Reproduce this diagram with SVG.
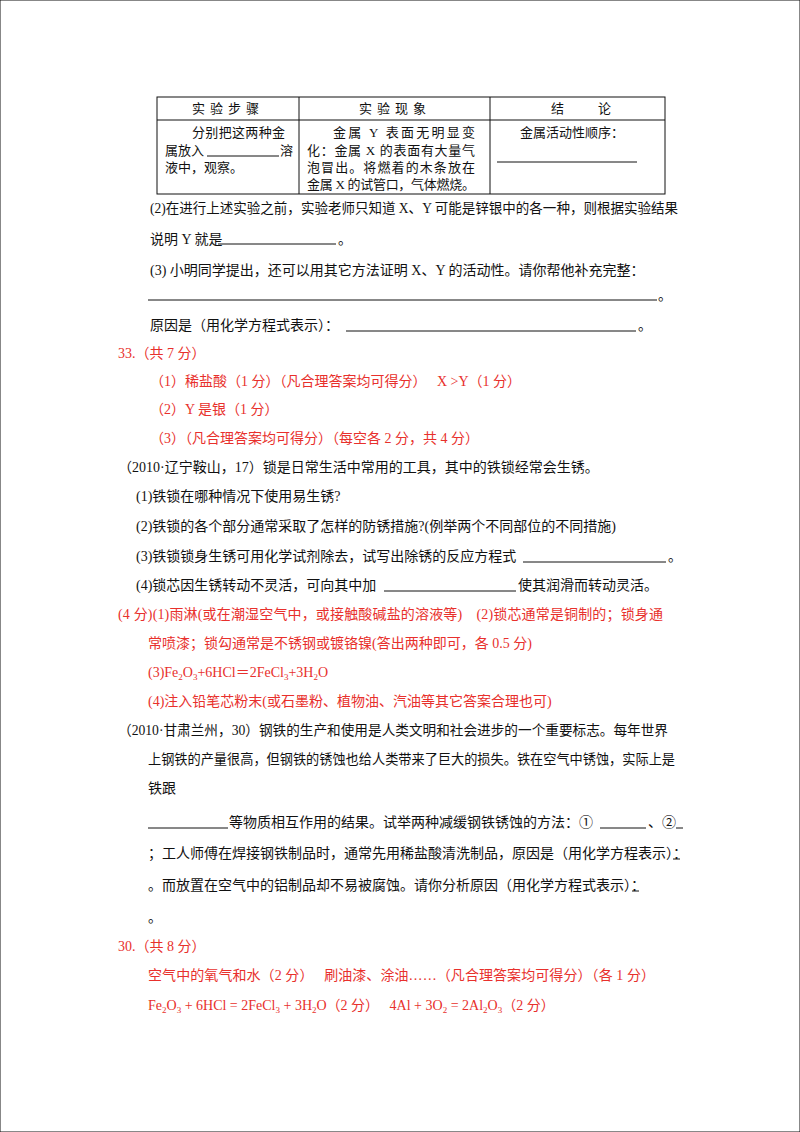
<svg xmlns="http://www.w3.org/2000/svg" width="800" height="1132" viewBox="0 0 800 1132">
<style>
text{font-family:"Liberation Serif","Noto Sans CJK SC",serif;font-size:14px;fill:#111}
.r{fill:#e8302c}
.s{font-size:13px}
line,rect{stroke:#111;stroke-width:1;fill:none}
</style>
<rect x="0" y="0" width="800" height="1132" fill="#fff" stroke="none"/>
<g id="table">
<rect x="157" y="97" width="508" height="97" stroke-width="1.3"/>
<line x1="157" y1="120" x2="665" y2="120"/>
<line x1="299" y1="97" x2="299" y2="194"/>
<line x1="490" y1="97" x2="490" y2="194"/>
<text x="228" y="113" text-anchor="middle" class="s" letter-spacing="5">实验步骤</text>
<text x="395" y="113" text-anchor="middle" class="s" letter-spacing="5">实验现象</text>
<text x="551" y="113" class="s">结</text><text x="598" y="113" class="s">论</text>
<text x="192" y="137" class="s" textLength="93" lengthAdjust="spacing">分别把这两种金</text>
<text x="165" y="155" class="s">属放入</text><line x1="207" y1="156" x2="279" y2="156"/><text x="280" y="155" class="s">溶</text>
<text x="165" y="172" class="s">液中，观察。</text>
<text x="333" y="137" class="s" textLength="142" lengthAdjust="spacing">金属 Y 表面无明显变</text>
<text x="307" y="155" class="s" textLength="168" lengthAdjust="spacing">化：金属 X 的表面有大量气</text>
<text x="307" y="172" class="s" textLength="168" lengthAdjust="spacing">泡冒出。将燃着的木条放在</text>
<text x="307" y="189" class="s" textLength="168" lengthAdjust="spacing">金属 X 的试管口，气体燃烧。</text>
<text x="520" y="137" class="s">金属活动性顺序：</text>
<line x1="497" y1="162" x2="637" y2="162"/>
</g>
<g id="text">
<text x="150" y="213" textLength="528" lengthAdjust="spacingAndGlyphs">(2)在进行上述实验之前，实验老师只知道 X、Y 可能是锌银中的各一种，则根据实验结果</text>
<text x="150" y="244">说明 Y 就是</text><line x1="218" y1="244" x2="336" y2="244"/><text x="338" y="244">。</text>
<text x="150" y="275">(3) 小明同学提出，还可以用其它方法证明 X、Y 的活动性。请你帮他补充完整：</text>
<line x1="148" y1="300" x2="657" y2="300"/><text x="658" y="300">。</text>
<text x="150" y="330">原因是（用化学方程式表示）：</text><line x1="346" y1="331" x2="636" y2="331"/><text x="638" y="330">。</text>
<text x="118" y="358" class="r">33.（共 7 分）</text>
<text x="150" y="386" class="r">（1）稀盐酸（1 分）（凡合理答案均可得分）　 X &gt;Y（1 分）</text>
<text x="150" y="414" class="r">（2）Y 是银（1 分）</text>
<text x="150" y="443" class="r">（3）（凡合理答案均可得分）（每空各 2 分，共 4 分）</text>
<text x="118" y="472">（2010·辽宁鞍山，17）锁是日常生活中常用的工具，其中的铁锁经常会生锈。</text>
<text x="136" y="501">(1)铁锁在哪种情况下使用易生锈?</text>
<text x="136" y="531">(2)铁锁的各个部分通常采取了怎样的防锈措施?(例举两个不同部位的不同措施)</text>
<text x="136" y="561">(3)铁锁锁身生锈可用化学试剂除去，试写出除锈的反应方程式</text><line x1="523" y1="562" x2="666" y2="562"/><text x="668" y="561">。</text>
<text x="136" y="590">(4)锁芯因生锈转动不灵活，可向其中加</text><line x1="384" y1="591" x2="516" y2="591"/><text x="518" y="590">使其润滑而转动灵活。</text>
<text x="118" y="619" class="r" textLength="545" lengthAdjust="spacing">(4 分)(1)雨淋(或在潮湿空气中，或接触酸碱盐的溶液等)　(2)锁芯通常是铜制的；锁身通</text>
<text x="148" y="648" class="r">常喷漆；锁勾通常是不锈钢或镀铬镍(答出两种即可，各 0.5 分)</text>
<text x="148" y="677" class="r">(3)Fe<tspan font-size="9" dy="3">2</tspan><tspan dy="-3">O</tspan><tspan font-size="9" dy="3">3</tspan><tspan dy="-3">+6HCl＝2FeCl</tspan><tspan font-size="9" dy="3">3</tspan><tspan dy="-3">+3H</tspan><tspan font-size="9" dy="3">2</tspan><tspan dy="-3">O</tspan></text>
<text x="148" y="706" class="r">(4)注入铅笔芯粉末(或石墨粉、植物油、汽油等其它答案合理也可)</text>
<text x="118" y="735" textLength="550" lengthAdjust="spacingAndGlyphs">（2010·甘肃兰州，30）钢铁的生产和使用是人类文明和社会进步的一个重要标志。每年世界</text>
<text x="148" y="764" textLength="527" lengthAdjust="spacingAndGlyphs">上钢铁的产量很高，但钢铁的锈蚀也给人类带来了巨大的损失。铁在空气中锈蚀，实际上是</text>
<text x="148" y="793">铁跟</text>
<line x1="148" y1="828" x2="228" y2="828"/><text x="229" y="827">等物质相互作用的结果。试举两种减缓钢铁锈蚀的方法：①</text><line x1="600" y1="828" x2="646" y2="828"/><text x="648" y="827">、②</text><line x1="676" y1="828" x2="683" y2="828"/>
<text x="148" y="858">；工人师傅在焊接钢铁制品时，通常先用稀盐酸清洗制品，原因是（用化学方程表示）：</text><line x1="673" y1="859" x2="680" y2="859"/>
<text x="148" y="890">。而放置在空气中的铝制品却不易被腐蚀。请你分析原因（用化学方程式表示）：</text><line x1="632" y1="891" x2="639" y2="891"/>
<text x="148" y="922">。</text>
<text x="118" y="951" class="r">30.（共 8 分）</text>
<text x="148" y="980" class="r" textLength="507" lengthAdjust="spacing">空气中的氧气和水（2 分）　 刷油漆、涂油……（凡合理答案均可得分）（各 1 分）</text>
<text x="148" y="1010" class="r" font-size="13">Fe<tspan font-size="9" dy="3">2</tspan><tspan dy="-3">O</tspan><tspan font-size="9" dy="3">3</tspan><tspan dy="-3"> + 6HCl = 2FeCl</tspan><tspan font-size="9" dy="3">3</tspan><tspan dy="-3"> + 3H</tspan><tspan font-size="9" dy="3">2</tspan><tspan dy="-3">O（2 分）　 4Al + 3O</tspan><tspan font-size="9" dy="3">2</tspan><tspan dy="-3"> = 2Al</tspan><tspan font-size="9" dy="3">2</tspan><tspan dy="-3">O</tspan><tspan font-size="9" dy="3">3</tspan><tspan dy="-3">（2 分）</tspan></text>
</g>
</svg>
